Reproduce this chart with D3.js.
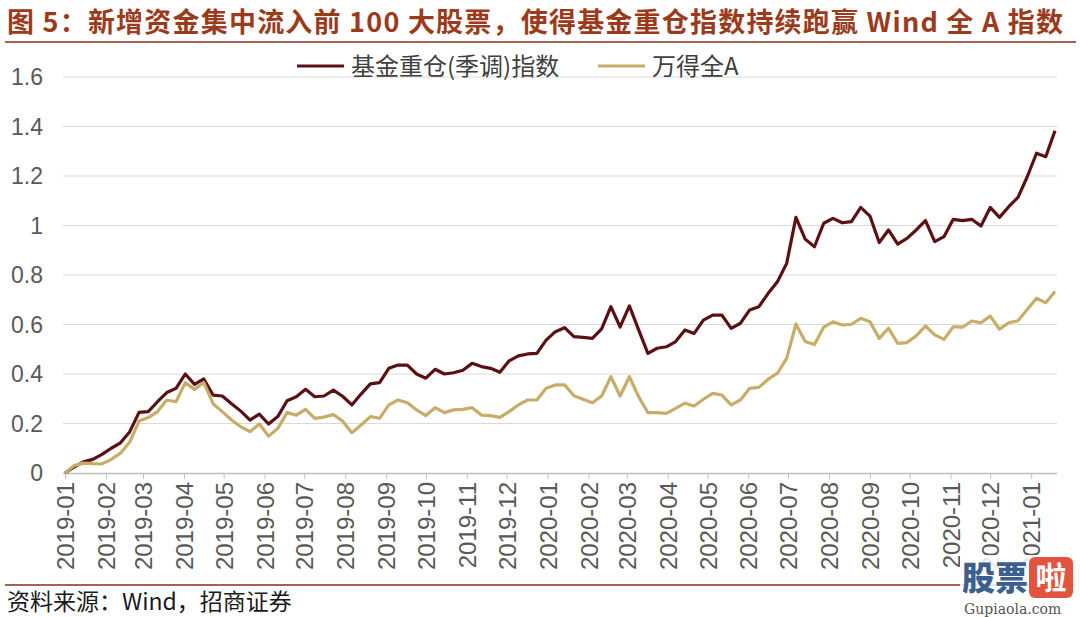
<!DOCTYPE html>
<html><head><meta charset="utf-8">
<script src="https://cdn.jsdelivr.net/npm/d3@7"></script>
<style>
html,body{margin:0;padding:0;background:#fff;}
svg{display:block;}
</style></head>
<body>
<svg id="chart" width="1080" height="617"></svg>
<script>
// ---------- data ----------
const titleText = "图 5：新增资金集中流入前 100 大股票，使得基金重仓指数持续跑赢 Wind 全 A 指数";
const sourceText = "资料来源：Wind，招商证券";
const seriesNames = ["基金重仓(季调)指数", "万得全A"];
const startDate = "2019-01-01";   // weekly observations, 108 weeks
const fundHeavy = [
0.0,0.025,0.045,0.055,0.075,0.10,0.122,0.167,0.245,0.248,
0.288,0.325,0.342,0.40,0.358,0.38,0.315,0.311,0.28,0.25,
0.214,0.238,0.198,0.228,0.292,0.308,0.338,0.308,0.311,0.335,
0.31,0.275,0.319,0.36,0.365,0.423,0.436,0.436,0.40,0.383,
0.419,0.40,0.405,0.415,0.443,0.43,0.423,0.407,0.453,0.473,
0.481,0.483,0.537,0.571,0.587,0.551,0.548,0.544,0.582,0.672,
0.59,0.675,0.578,0.483,0.504,0.51,0.531,0.578,0.564,0.618,
0.638,0.638,0.584,0.605,0.659,0.672,0.726,0.773,0.847,1.033,
0.945,0.914,1.009,1.029,1.011,1.016,1.073,1.038,0.931,0.982,
0.925,0.948,0.982,1.02,0.935,0.955,1.025,1.02,1.025,0.998,
1.073,1.033,1.076,1.114,1.197,1.292,1.278,1.383];
const windA = [
0.0,0.03,0.04,0.038,0.037,0.055,0.08,0.125,0.21,0.224,
0.248,0.295,0.288,0.365,0.338,0.366,0.28,0.248,0.214,0.187,
0.167,0.198,0.149,0.18,0.244,0.234,0.257,0.221,0.226,0.236,
0.21,0.163,0.194,0.228,0.221,0.275,0.295,0.284,0.255,0.232,
0.264,0.244,0.255,0.257,0.264,0.234,0.232,0.225,0.248,0.275,
0.295,0.295,0.342,0.356,0.356,0.312,0.298,0.284,0.311,0.389,
0.311,0.389,0.308,0.244,0.244,0.241,0.261,0.282,0.271,0.298,
0.322,0.315,0.275,0.295,0.342,0.346,0.379,0.403,0.463,0.602,
0.531,0.519,0.589,0.611,0.598,0.601,0.625,0.611,0.544,0.585,
0.524,0.527,0.554,0.594,0.558,0.54,0.591,0.589,0.614,0.607,
0.634,0.581,0.607,0.615,0.661,0.706,0.688,0.733];
const yTicks = [0,0.2,0.4,0.6,0.8,1,1.2,1.4,1.6];
const yTickLabels = ["0","0.2","0.4","0.6","0.8","1","1.2","1.4","1.6"];
const colors = ["#5B1014", "#C7AD68"];

// ---------- build ----------
const parse = d3.timeParse("%Y-%m-%d");
const t0 = parse(startDate);
const dates = fundHeavy.map((_, i) => d3.timeDay.offset(t0, 7 * i));

const svg = d3.select("#chart");
const L = 65, R = 1055, T = 77, B = 473;

const x = d3.scaleTime().domain([dates[0], dates[dates.length - 1]]).range([L, R]);
const y = d3.scaleLinear().domain([0, 1.6]).range([B, T]);

const cjk = "'Noto Sans CJK SC', 'Noto Sans', sans-serif";
const latin = "'Liberation Sans', Arial, sans-serif";

// title
svg.append("text")
  .attr("x", 7).attr("y", 32)
  .attr("textLength", 1056).attr("lengthAdjust", "spacing")
  .style("font-family", cjk).style("font-weight", 700)
  .style("font-size", "27px").style("fill", "#9B3B1C")
  .text(titleText);
svg.append("line").attr("x1", 5).attr("x2", 1076).attr("y1", 42).attr("y2", 42)
  .style("stroke", "#8A2B1B").style("stroke-width", 1.6);

// gridlines
svg.append("g").selectAll("line").data(yTicks.filter(d => d > 0)).join("line")
  .attr("x1", L - 2).attr("x2", R + 2)
  .attr("y1", d => y(d)).attr("y2", d => y(d))
  .style("stroke", "#D9D9D9").style("stroke-width", 1);

// y axis labels
svg.append("g").selectAll("text").data(yTicks).join("text")
  .attr("x", 43).attr("y", d => y(d)).attr("dy", "0.36em")
  .attr("text-anchor", "end")
  .style("font-family", latin).style("font-size", "23px").style("fill", "#595959")
  .text((d, i) => yTickLabels[i]);

// x axis
const xAxis = d3.axisBottom(x)
  .ticks(d3.timeMonth.every(1))
  .tickFormat(d3.timeFormat("%Y-%m"))
  .tickSize(6).tickPadding(8).tickSizeOuter(0);
const gx = svg.append("g").attr("transform", `translate(0,${B})`).call(xAxis);
gx.select(".domain").attr("d", `M${L - 2},0.5H${R + 2}`).style("stroke", "#BFBFBF").style("stroke-width", 1.5);
gx.selectAll(".tick line").style("stroke", "#BFBFBF");
gx.selectAll(".tick text")
  .attr("transform", "rotate(-90)")
  .attr("text-anchor", "end")
  .attr("x", -9).attr("y", 0).attr("dy", "0.36em")
  .style("font-family", latin).style("font-size", "24px").style("fill", "#595959");

// lines
const series = [fundHeavy, windA];
const line = d3.line().x((d, i) => x(dates[i])).y(d => y(d));
series.forEach((s, k) => {
  svg.append("path").datum(s)
    .attr("d", line)
    .style("fill", "none").style("stroke", colors[k])
    .style("stroke-width", 3.2).style("stroke-linejoin", "round");
});

// legend
const legendX = [297, 598];
seriesNames.forEach((n, k) => {
  svg.append("line").attr("x1", legendX[k]).attr("x2", legendX[k] + 47)
    .attr("y1", 66).attr("y2", 66)
    .style("stroke", colors[k]).style("stroke-width", 3.2);
  svg.append("text").attr("x", legendX[k] + 54).attr("y", 66).attr("dy", "0.36em")
    .style("font-family", cjk).style("font-size", "24px").style("fill", "#404040")
    .text(n);
});

// footer
svg.append("line").attr("x1", 5).attr("x2", 1076).attr("y1", 585).attr("y2", 585)
  .style("stroke", "#8A2B1B").style("stroke-width", 1.4);
svg.append("text").attr("x", 7).attr("y", 610)
  .style("font-family", cjk).style("font-size", "23px").style("fill", "#1a1a1a")
  .text(sourceText);

// watermark
const wm = svg.append("g");
wm.append("rect").attr("x", 960).attr("y", 555).attr("width", 118).attr("height", 62).style("fill", "#fff").style("opacity", 0.85);
wm.append("text").attr("x", 962).attr("y", 590)
  .style("font-family", cjk).style("font-weight", 900).style("font-size", "33px").style("fill", "#3B5F8E")
  .text("股票");
wm.append("rect").attr("x", 1029).attr("y", 557).attr("width", 44).attr("height", 41).attr("rx", 6)
  .style("fill", "#E2543F");
wm.append("text").attr("x", 1051).attr("y", 589).attr("text-anchor", "middle")
  .style("font-family", cjk).style("font-weight", 700).style("font-size", "31px").style("fill", "#fff")
  .text("啦");
wm.append("text").attr("x", 964).attr("y", 614)
  .style("font-family", "'DejaVu Serif', serif").style("font-size", "14px").style("fill", "#555")
  .text("Gupiaola.com");
</script>
</body></html>
